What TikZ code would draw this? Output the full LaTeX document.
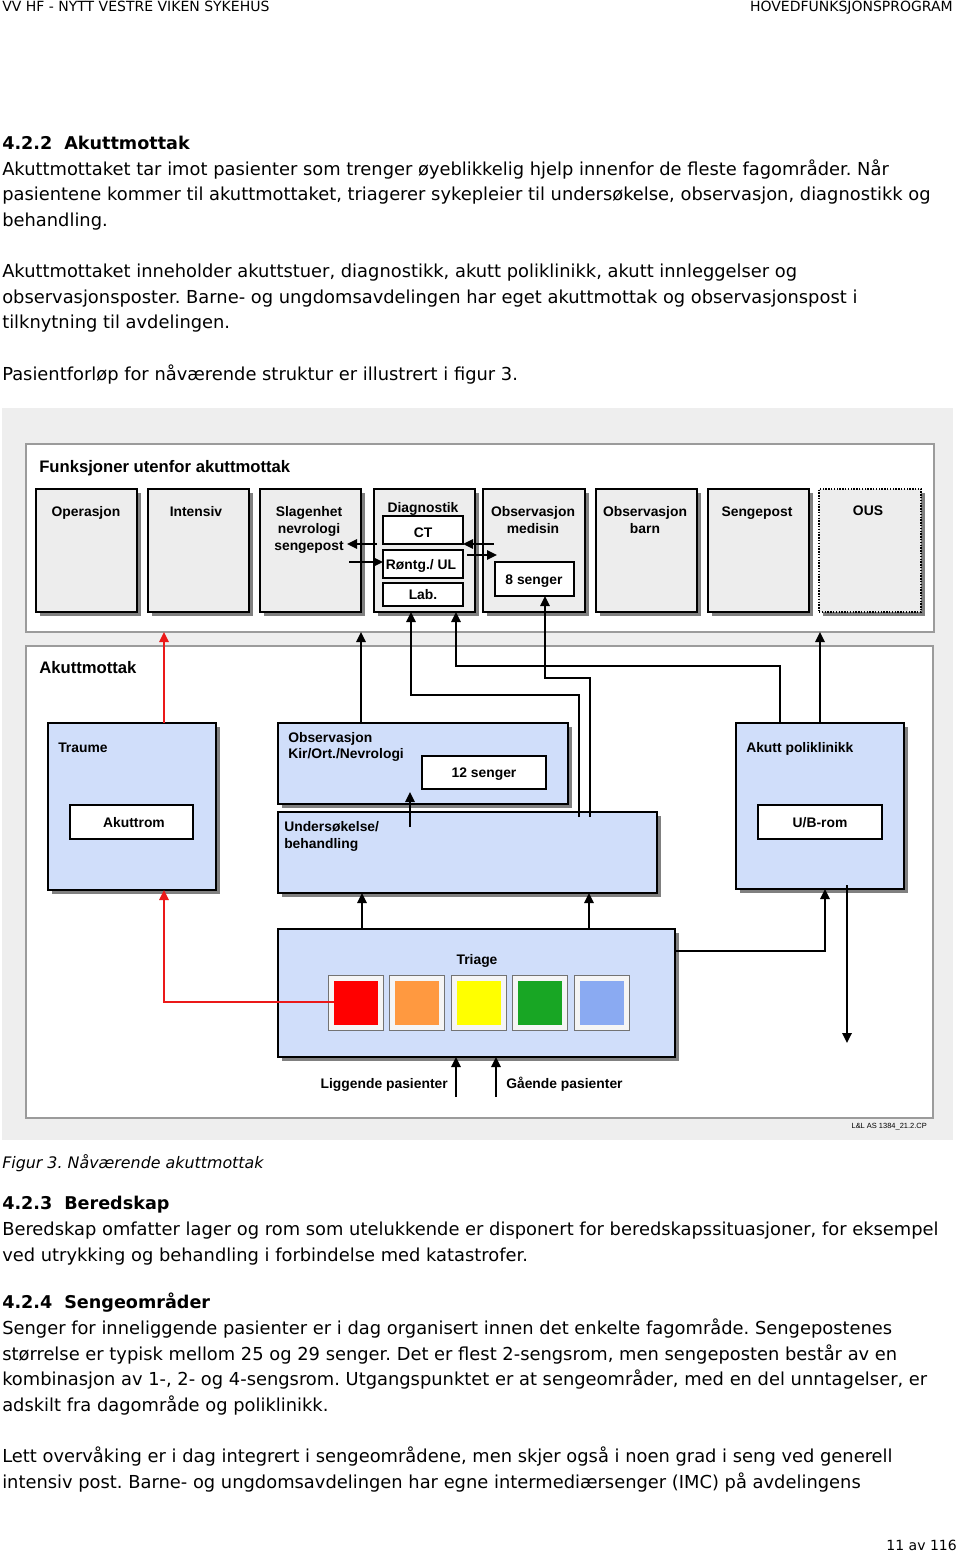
\documentclass[tikz,border=0pt]{standalone}
\usepackage{fontspec}
\setmainfont{DejaVu Sans}
\newfontfamily\arialf{Liberation Sans}
\usetikzlibrary{arrows.meta,shadows,calc}
\definecolor{figbg}{RGB}{238,238,238}
\definecolor{frameline}{RGB}{155,155,155}
\definecolor{boxgray}{RGB}{237,237,237}
\definecolor{boxblue}{RGB}{208,222,250}
\definecolor{shadowgray}{RGB}{128,128,128}
\definecolor{tred}{RGB}{255,0,0}
\definecolor{torange}{RGB}{255,153,64}
\definecolor{tyellow}{RGB}{255,255,0}
\definecolor{tgreen}{RGB}{24,166,36}
\definecolor{tblue}{RGB}{138,170,242}
\definecolor{arrred}{RGB}{235,25,25}
\newcommand\bx[6]{\node[#1, minimum width=#5*0.75pt, minimum height=#6*0.75pt] (#2) at (#3,#4) {};}
\newlength\pxu \setlength\pxu{0.75pt}
\frenchspacing
\begin{document}
\begin{tikzpicture}[x=0.75pt,y=-0.75pt,
  bodytxt/.style={anchor=base west, inner sep=0pt, font=\fontsize{13.4}{16}\selectfont},
  headtxt/.style={bodytxt, font=\bfseries\fontsize{13.2}{16}\selectfont},
  captxt/.style={bodytxt, font=\itshape\fontsize{11.9}{14}\selectfont},
  hdrtxt/.style={inner sep=0pt, font=\fontsize{10.5}{12}\selectfont},
  lbl/.style={anchor=base, inner sep=0pt, font=\arialf\bfseries\fontsize{10.4}{12}\selectfont},
  lbll/.style={lbl, anchor=base west},
  lblr/.style={lbl, anchor=base east},
  ttl/.style={anchor=base west, inner sep=0pt, font=\arialf\bfseries\fontsize{12.5}{14}\selectfont},
  panel/.style={draw=frameline, line width=1.5pt, fill=white, anchor=north west, inner sep=0pt, outer sep=0pt},
  graybox/.style={draw=black, line width=1.1pt, fill=boxgray, anchor=north west, inner sep=0pt, outer sep=0pt,
     drop shadow={shadow xshift=3pt, shadow yshift=-3pt, fill=shadowgray, opacity=1}},
  bluebox/.style={graybox, fill=boxblue},
  whitebox/.style={draw=black, line width=0.9pt, fill=white, anchor=north west, inner sep=0pt, outer sep=0pt},
  sqframe/.style={draw=black!55, line width=0.6pt, fill=white!96!black, anchor=north west, inner sep=0pt, outer sep=0pt},
  sqin/.style={anchor=north west, inner sep=0pt, outer sep=0pt},
  conn/.style={line width=1.6pt, -{Triangle[length=7.5pt,width=7pt]}},
  rconn/.style={conn, draw=arrred}
]
\useasboundingbox (0,0) rectangle (960,1552);
\fill[white] (0,0) rectangle (960,1552);

% header
\node[hdrtxt, anchor=base west] (hleft) at (2,12) {VV HF - NYTT VESTRE VIKEN SYKEHUS};
\node[hdrtxt, anchor=base east] (hright) at (953,12) {HOVEDFUNKSJONSPROGRAM};

% text above figure
\node[headtxt] (h422) at (2,149) {\makebox[62\pxu][l]{4.2.2}Akuttmottak};
\node[bodytxt] (t1) at (2,175) {Akuttmottaket tar imot pasienter som trenger øyeblikkelig hjelp innenfor de fleste fagområder. Når};
\node[bodytxt] (t2) at (2,200) {pasientene kommer til akuttmottaket, triagerer sykepleier til undersøkelse, observasjon, diagnostikk og};
\node[bodytxt] (t3) at (2,226) {behandling.};
\node[bodytxt] (t4) at (2,277) {Akuttmottaket inneholder akuttstuer, diagnostikk, akutt poliklinikk, akutt innleggelser og};
\node[bodytxt] (t5) at (2,303) {observasjonsposter. Barne- og ungdomsavdelingen har eget akuttmottak og observasjonspost i};
\node[bodytxt] (t6) at (2,328) {tilknytning til avdelingen.};
\node[bodytxt] (t7) at (2,380) {Pasientforløp for nåværende struktur er illustrert i figur 3.};

% figure background
\node[fill=figbg, anchor=north west, inner sep=0pt, minimum width=951*0.75pt, minimum height=732*0.75pt] (figbg) at (2,408) {};

% panels
\bx{panel}{funk}{26}{444}{908}{188}
\bx{panel}{akm}{26}{646}{907}{472}
\node[ttl] (funkttl) at (39,472) {Funksjoner utenfor akuttmottak};
\node[ttl] (akmttl) at (39,673) {Akuttmottak};

% top boxes
\bx{graybox}{oper}{36}{489}{101}{123}
\bx{graybox}{inten}{148}{489}{101}{123}
\bx{graybox}{slag}{260}{489}{101}{123}
\bx{graybox}{diag}{374}{489}{101}{123}
\bx{graybox}{obsmed}{483}{489}{102}{123}
\bx{graybox}{obsbarn}{596}{489}{101}{123}
\bx{graybox}{senge}{708}{489}{101}{123}
\bx{graybox, densely dotted, line width=0.9pt}{ous}{819}{489}{102}{123}
\bx{whitebox}{ct}{383}{516}{80}{28}
\bx{whitebox}{rontg}{383}{550}{80}{28}
\bx{whitebox}{lab}{383}{583}{80}{23}
\bx{whitebox}{msen}{495}{562}{79}{34}

\node[lbl] (loper) at (86,516) {Operasjon};
\node[lbl] (linten) at (196,516) {Intensiv};
\node[lbl] (lslag1) at (309,516) {Slagenhet};
\node[lbl] (lslag2) at (309,533) {nevrologi};
\node[lbl] (lslag3) at (309,550) {sengepost};
\node[lbl] (ldiag) at (423,512) {Diagnostik};
\node[lbl] (lct) at (423,537) {CT};
\node[lbl] (lrontg) at (421,569) {Røntg./ UL};
\node[lbl] (llab) at (423,599) {Lab.};
\node[lbl] (lobsmed1) at (533,516) {Observasjon};
\node[lbl] (lobsmed2) at (533,533) {medisin};
\node[lbl] (lmsen) at (534,584) {8 senger};
\node[lbl] (lobsbarn1) at (645,516) {Observasjon};
\node[lbl] (lobsbarn2) at (645,533) {barn};
\node[lbl] (lsenge) at (757,516) {Sengepost};
\node[lbl] (lous) at (868,515) {OUS};

% akuttmottak boxes
\bx{bluebox}{traume}{48}{723}{168}{167}
\bx{whitebox}{akrom}{70}{805}{123}{34}
\bx{bluebox}{obskir}{278}{723}{290}{81}
\bx{whitebox}{sen12}{422}{756}{124}{33}
\bx{bluebox}{under}{278}{812}{379}{81}
\bx{bluebox}{poli}{736}{723}{168}{166}
\bx{whitebox}{ubrom}{758}{805}{124}{34}
\bx{bluebox}{triage}{278}{929}{397}{128}

\node[lbll] (ltraume) at (58,752) {Traume};
\node[lbl] (lakrom) at (134,827) {Akuttrom};
\node[lbll] (lobskir1) at (288,742) {Observasjon};
\node[lbll] (lobskir2) at (288,758) {Kir/Ort./Nevrologi};
\node[lbl] (lsen12) at (484,777) {12 senger};
\node[lbll] (lunder1) at (284,831) {Undersøkelse/};
\node[lbll] (lunder2) at (284,848) {behandling};
\node[lbll] (lpoli) at (746,752) {Akutt poliklinikk};
\node[lbl] (lubrom) at (820,827) {U/B-rom};
\node[lbl] (ltriage) at (477,964) {Triage};
\node[lblr] (lligg) at (448,1088) {Liggende pasienter};
\node[lbll] (lgaa) at (506,1088) {Gående pasienter};
\node[anchor=base east, inner sep=0pt, font=\arialf\fontsize{5.6}{6}\selectfont] (lref) at (927,1128) {L\&L AS 1384\_21.2.CP};

% triage squares
\foreach \i/\c/\n in {0/tred/sqred,1/torange/sqorange,2/tyellow/sqyellow,3/tgreen/sqgreen,4/tblue/sqblue}{
  \bx{sqframe}{f\n}{328+61.6*\i}{975.5}{55}{55}
  \bx{sqin, fill=\c}{\n}{333.5+61.6*\i}{981}{44}{44}
}

% helper coordinates (x columns / y rows)
\foreach \xx in {164,347,349,361,362,377,410,411,456,458,464,467,494,496,497,545,579,589,590,780,820,825,847}{
  \coordinate (x\xx) at (\xx,0);
}
\foreach \yy in {544,555,562,666,678,695,792,817,827,885,951,1002,1043,1097}{
  \coordinate (y\yy) at (0,\yy);
}

% connectors: diag <-> slag / obsmed
\draw[conn] (x377 |- y544) -- (x347 |- y544);
\draw[conn] (x349 |- y562) -- (rontg.west |- y562);
\draw[conn] (x494 |- y544) -- (ct.east |- y544);
\draw[conn] (x467 |- y555) -- (x497 |- y555);

% akuttmottak -> top functions
\draw[rconn] (traume.north -| x164) -- (funk.south -| x164);
\draw[conn] (obskir.north -| x361) -- (funk.south -| x361);
\draw[conn] (poli.north -| x820) -- (funk.south -| x820);
\draw[conn] (poli.north -| x780) |- (y666 -| x456) -- (diag.south -| x456);
\draw[conn] (x590 |- y817) |- (y678 -| x545) -- (msen.south -| x545);
\draw[conn] (x579 |- y817) |- (y695 -| x411) -- (diag.south -| x411);
\draw[conn] (x410 |- y827) -- (x410 |- y792);

% triage outputs
\draw[conn] (triage.north -| x362) -- (under.south -| x362);
\draw[conn] (triage.north -| x589) -- (under.south -| x589);
\draw[conn] (y951 -| triage.east) -| (poli.south -| x825);
\draw[conn] (x847 |- y885) -- (x847 |- y1043);
\draw[rconn] (sqred.west |- y1002) -| (traume.south -| x164);

% incoming patients
\draw[conn] (x456 |- y1097) -- (triage.south -| x456);
\draw[conn] (x496 |- y1097) -- (triage.south -| x496);

% text below figure
\node[captxt] (cap) at (2,1168) {Figur 3. Nåværende akuttmottak};
\node[headtxt] (h423) at (2,1209) {\makebox[62\pxu][l]{4.2.3}Beredskap};
\node[bodytxt] (b1) at (2,1235) {Beredskap omfatter lager og rom som utelukkende er disponert for beredskapssituasjoner, for eksempel};
\node[bodytxt] (b2) at (2,1261) {ved utrykking og behandling i forbindelse med katastrofer.};
\node[headtxt] (h424) at (2,1308) {\makebox[62\pxu][l]{4.2.4}Sengeområder};
\node[bodytxt] (s1) at (2,1334) {Senger for inneliggende pasienter er i dag organisert innen det enkelte fagområde. Sengepostenes};
\node[bodytxt] (s2) at (2,1360) {størrelse er typisk mellom 25 og 29 senger. Det er flest 2-sengsrom, men sengeposten består av en};
\node[bodytxt] (s3) at (2,1385) {kombinasjon av 1-, 2- og 4-sengsrom. Utgangspunktet er at sengeområder, med en del unntagelser, er};
\node[bodytxt] (s4) at (2,1411) {adskilt fra dagområde og poliklinikk.};
\node[bodytxt] (s5) at (2,1462) {Lett overvåking er i dag integrert i sengeområdene, men skjer også i noen grad i seng ved generell};
\node[bodytxt] (s6) at (2,1488) {intensiv post. Barne- og ungdomsavdelingen har egne intermediærsenger (IMC) på avdelingens};
\node[bodytxt, anchor=base east, font=\fontsize{10.5}{12}\selectfont] (pnum) at (957,1550) {11 av 116};
\end{tikzpicture}
\end{document}
